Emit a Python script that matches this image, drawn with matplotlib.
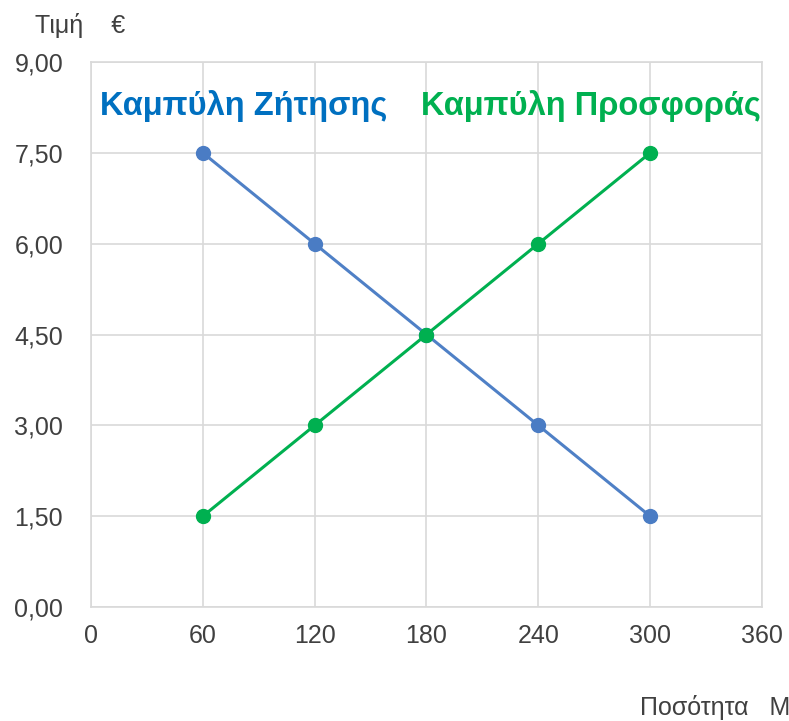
import numpy as np
from matplotlib import pyplot as plt
from matplotlib.ticker import FuncFormatter

plt.rcParams["font.family"] = ["Liberation Sans", "DejaVu Sans"]

quantity = [60, 120, 180, 240, 300]
demand_price = [7.5, 6.0, 4.5, 3.0, 1.5]
supply_price = [1.5, 3.0, 4.5, 6.0, 7.5]
x_ticks = [0, 60, 120, 180, 240, 300, 360]
y_ticks = [0, 1.5, 3.0, 4.5, 6.0, 7.5, 9.0]

demand_line = "#4f80c6"
demand_text = "#0070c0"
supply_color = "#00b050"
grid_color = "#d9d9d9"

fig = plt.figure(figsize=(7.89, 7.21), dpi=100)
ax = fig.add_axes([0.1153, 0.158, 0.8505, 0.756])

ax.plot(quantity, demand_price, color=demand_line, lw=2.2, marker="o",
        ms=10, mfc="#4a7cc4", mec="#4a7cc4", zorder=3)
ax.plot(quantity, supply_price, color=supply_color, lw=2.2, marker="o",
        ms=10, mfc=supply_color, mec=supply_color, zorder=3)

ax.set_xlim(0, 360)
ax.set_ylim(0, 9)
ax.set_xticks(x_ticks)
ax.set_yticks(y_ticks)
ax.yaxis.set_major_formatter(FuncFormatter(lambda v, p: f"{v:.2f}".replace(".", ",")))
ax.tick_params(length=0, labelsize=18, colors="#404040")
ax.tick_params(axis="y", pad=20)
ax.tick_params(axis="x", pad=12)
ax.grid(True, color=grid_color, lw=1.2)
ax.set_axisbelow(True)
for s in ax.spines.values():
    s.set_color(grid_color)
    s.set_linewidth(1.2)

ax.text(4.8, 8.27, "Καμπύλη Ζήτησης", color=demand_text, fontsize=23.5,
        fontweight="bold", va="center", ha="left")
ax.text(177, 8.27, "Καμπύλη Προσφοράς", color=supply_color, fontsize=23.5,
        fontweight="bold", va="center", ha="left")

fig.text(35 / 789, 1 - 25 / 721, "Τιμή    €", fontsize=18, color="#404040",
         va="center", ha="left")
fig.text(640 / 789, 1 - 708 / 721, "Ποσότητα   Μονάδες", fontsize=18,
         color="#404040", va="center", ha="left")

fig.savefig("out.png", dpi=100)
